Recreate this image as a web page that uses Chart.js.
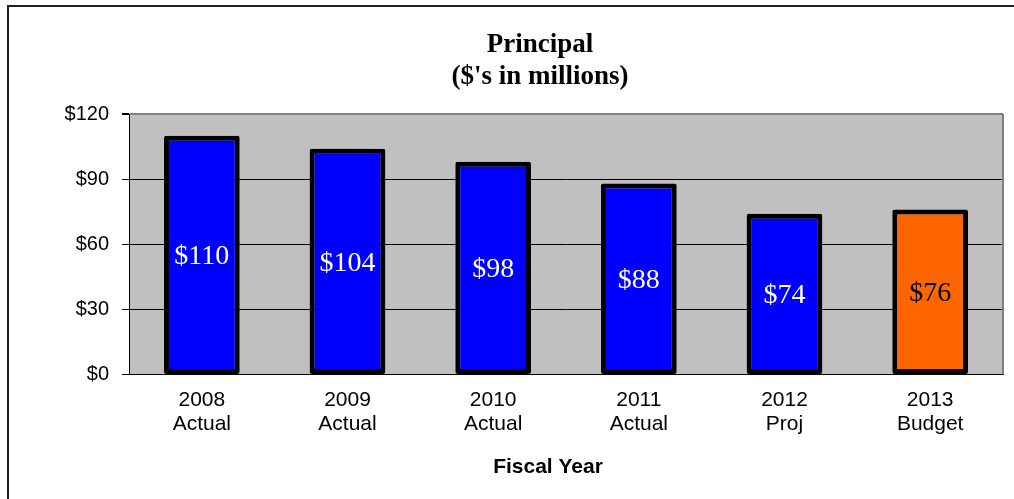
<!DOCTYPE html>
<html>
<head>
<meta charset="utf-8">
<script src="https://cdn.jsdelivr.net/npm/chart.js@4"></script>
<style>
  html, body { margin: 0; padding: 0; background: #fff; overflow: hidden; }
  #wrap { width: 1080px; height: 499px; }
</style>
</head>
<body>
<div id="wrap"><canvas id="c" width="1080" height="499"></canvas></div>
<script>
// Principal by fiscal year, $ millions
const years = ['2008', '2009', '2010', '2011', '2012', '2013'];
const kinds = ['Actual', 'Actual', 'Actual', 'Actual', 'Proj', 'Budget'];
const principal = [110, 104, 98, 88, 74, 76];
const barColors = ['#0000ff', '#0000ff', '#0000ff', '#0000ff', '#0000ff', '#ff6600'];
const valueColors = ['#ffffff', '#ffffff', '#ffffff', '#ffffff', '#ffffff', '#000000'];
const yTicks = [0, 30, 60, 90, 120];
const titleLines = ['Principal', "($'s in millions)"];
const xAxisTitle = 'Fiscal Year';

const categories = years.map((y, i) => [y, kinds[i]]);
const SANS = '"Liberation Sans", Arial, sans-serif';
const SERIF = '"Liberation Serif", "Times New Roman", serif';

// outer frame, title and grey plot background
const backdrop = {
  id: 'backdrop',
  beforeDraw(chart) {
    const { ctx, chartArea: a } = chart;
    ctx.save();
    ctx.strokeStyle = '#222';
    ctx.lineWidth = 2;
    ctx.strokeRect(8, 6, 1200, 600);
    ctx.fillStyle = '#c0c0c0';
    ctx.fillRect(a.left, a.top, a.right - a.left, a.bottom - a.top);
    ctx.fillStyle = '#000';
    ctx.font = 'bold 27px ' + SERIF;
    ctx.textAlign = 'center';
    ctx.textBaseline = 'middle';
    titleLines.forEach((t, i) => ctx.fillText(t, 540, 45 + i * 32));
    ctx.restore();
  },
  afterDraw(chart) {
    const { ctx, chartArea: a } = chart;
    ctx.save();
    ctx.strokeStyle = '#808080';
    ctx.lineWidth = 2;
    ctx.beginPath();
    ctx.moveTo(a.right, a.top);
    ctx.lineTo(a.right, a.bottom);
    ctx.stroke();
    ctx.fillStyle = '#000';
    ctx.font = 'bold 21px ' + SANS;
    ctx.textAlign = 'center';
    ctx.textBaseline = 'middle';
    ctx.fillText(xAxisTitle, 548, 467);
    ctx.restore();
  }
};

// value labels centred inside each bar
const barValues = {
  id: 'barValues',
  afterDatasetsDraw(chart) {
    const { ctx } = chart;
    const meta = chart.getDatasetMeta(0);
    ctx.save();
    ctx.font = '28px ' + SERIF;
    ctx.textAlign = 'center';
    ctx.textBaseline = 'middle';
    meta.data.forEach((bar, i) => {
      const { x, y, base } = bar.getProps(['x', 'y', 'base'], true);
      ctx.fillStyle = valueColors[i];
      ctx.fillText('$' + principal[i], x, (y + base) / 2 + 2);
    });
    ctx.restore();
  }
};

new Chart(document.getElementById('c'), {
  type: 'bar',
  data: {
    labels: categories,
    datasets: [{
      data: principal,
      backgroundColor: barColors,
      borderColor: '#000',
      borderWidth: 5,
      borderSkipped: false,
      borderRadius: 2,
      barPercentage: 0.52,
      categoryPercentage: 1
    }]
  },
  options: {
    responsive: false,
    animation: false,
    layout: { padding: { left: 0, right: 77, top: 114, bottom: 0 } },
    plugins: {
      legend: { display: false },
      tooltip: { enabled: false },
      title: { display: false }
    },
    scales: {
      x: {
        grid: { display: false, drawTicks: false },
        border: { display: true, color: '#000', width: 1 },
        ticks: {
          color: '#000',
          font: { family: SANS, size: 21, lineHeight: 24 / 21 },
          padding: 14,
          maxRotation: 0
        },
        afterFit(scale) { scale.height = 124.5; }
      },
      y: {
        min: 0,
        max: 120,
        afterBuildTicks(scale) { scale.ticks = yTicks.map(v => ({ value: v })); },
        grid: {
          color: ctx => (ctx.tick && ctx.tick.value === 120 ? '#808080' : '#000'),
          lineWidth: ctx => (ctx.tick && ctx.tick.value === 120 ? 2 : 1),
          tickColor: '#000',
          tickLength: 7,
          drawTicks: true
        },
        border: { display: true, color: '#000', width: 1 },
        ticks: {
          color: '#000',
          font: { family: SANS, size: 20 },
          padding: 13,
          callback: v => '$' + v
        },
        afterFit(scale) { scale.width = 129; }
      }
    }
  },
  plugins: [backdrop, barValues]
});
</script>
</body>
</html>
